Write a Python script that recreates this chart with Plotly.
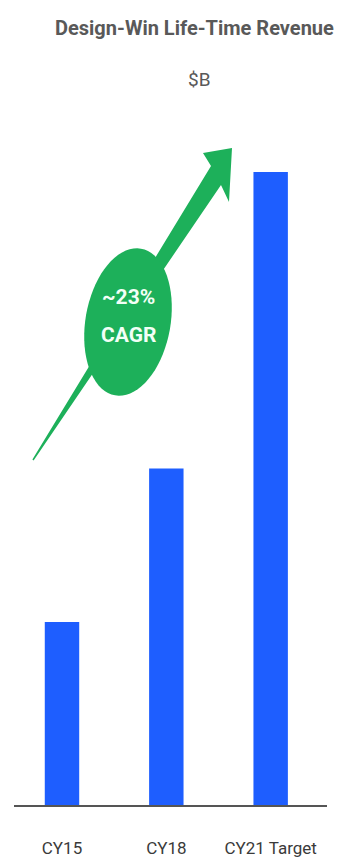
import math
import plotly.graph_objects as go

# ---- data ----
categories = ["CY15", "CY18", "CY21 Target"]
revenue_b = [5.0, 9.2, 17.3]
title_text = "Design-Win Life-Time Revenue"
unit_text = "$B"
cagr_lines = ["~23%", "CAGR"]

# ---- layout geometry ----
W, H = 339, 861
ML, MR, MT, MB = 14, 12, 100, 56
PW = W - ML - MR
PH = H - MT - MB

BAR_COLOR = "#1E5EFF"
GREEN = "#1DB05A"
FONT = "Roboto, Liberation Sans, sans-serif"


def px(x, y):
    """pixel position -> paper coords"""
    return (x - ML) / PW, (H - MB - y) / PH


fig = go.Figure()
fig.add_trace(go.Bar(
    x=categories, y=revenue_b, marker_color=BAR_COLOR,
    marker_line_width=0, width=0.33, hoverinfo="x+y",
))

# tapered arrow polygon (pixel positions of a decoration)
tail = (33, 460)
pts_px = [
    (tail[0] - 0.6, tail[1] - 0.4),
    (211, 166),
    (203, 153),
    (232, 148),
    (229, 202),
    (221, 185),
    (tail[0] + 0.6, tail[1] + 0.4),
]
path = "M " + " L ".join("%.5f,%.5f" % px(*p) for p in pts_px) + " Z"
shapes = [dict(type="path", xref="paper", yref="paper", path=path,
               fillcolor=GREEN, line=dict(width=0), layer="above")]

# tilted ellipse
cx, cy, rx, ry, tilt = 128, 322, 42.5, 74.5, math.radians(10)
ell = []
for i in range(72):
    t = 2 * math.pi * i / 72
    ex, ey = rx * math.cos(t), ry * math.sin(t)
    x = cx + ex * math.cos(tilt) - ey * math.sin(tilt)
    y = cy + ex * math.sin(tilt) + ey * math.cos(tilt)
    ell.append(px(x, y))
epath = "M " + " L ".join("%.5f,%.5f" % p for p in ell) + " Z"
shapes.append(dict(type="path", xref="paper", yref="paper", path=epath,
                   fillcolor=GREEN, line=dict(width=0), layer="above"))

annotations = []
tx, ty = px(194, 28)
annotations.append(dict(text="<b>" + title_text + "</b>", x=tx, y=ty, xref="paper", yref="paper",
                        showarrow=False, xanchor="center", yanchor="middle",
                        font=dict(family=FONT, size=20, color="#595959")))
ux, uy = px(199, 80)
annotations.append(dict(text=unit_text, x=ux, y=uy, xref="paper", yref="paper",
                        showarrow=False, xanchor="center", yanchor="middle",
                        font=dict(family=FONT, size=19, color="#595959")))
for line, yy in zip(cagr_lines, [297, 335]):
    ax_, ay_ = px(128, yy)
    annotations.append(dict(text="<b>" + line + "</b>", x=ax_, y=ay_, xref="paper", yref="paper",
                            showarrow=False, xanchor="center", yanchor="middle",
                            font=dict(family=FONT, size=21, color="#F2FFF6")))

fig.update_layout(
    width=W, height=H,
    margin=dict(l=ML, r=MR, t=MT, b=MB, pad=0, autoexpand=False),
    paper_bgcolor="white", plot_bgcolor="white",
    showlegend=False,
    shapes=shapes, annotations=annotations,
    xaxis=dict(type="category", range=[-0.46, 2.54], showline=True, linecolor="#555555",
               linewidth=2, showgrid=False, zeroline=False, ticks="", automargin=False,
               ticklabelstandoff=27,
               tickfont=dict(family=FONT, size=17, color="#3a3a3a"), fixedrange=True),
    yaxis=dict(range=[0, 19.27], visible=False, showgrid=False, zeroline=False,
               automargin=False, fixedrange=True),
)

fig.write_html("out.html")
